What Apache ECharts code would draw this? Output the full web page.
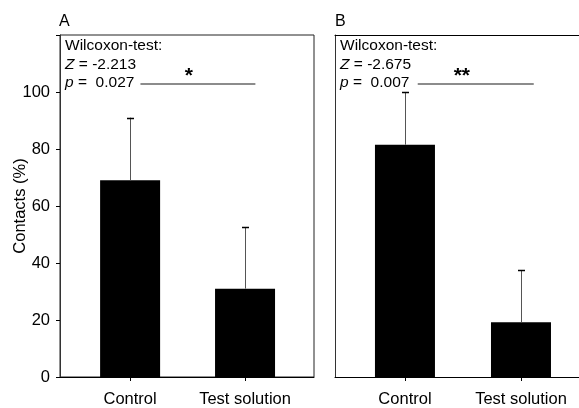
<!DOCTYPE html>
<html>
<head>
<meta charset="utf-8">
<script src="https://cdn.jsdelivr.net/npm/echarts@6/dist/echarts.min.js"></script>
<style>html,body{margin:0;padding:0;background:#fff}#c{width:579px;height:408px}</style>
</head>
<body>
<div id="c"></div>
<script>
var categories = ['Control', 'Test solution'];
var meansA = [69, 31];
var errA = [22, 21.5];
var meansB = [81.5, 19.2];
var errB = [18.5, 18.3];
var yTicks = [0, 20, 40, 60, 80, 100];
var statsA = ['Wilcoxon-test:', '{i|Z} = -2.213', '{i|p} =  0.027'];
var statsB = ['Wilcoxon-test:', '{i|Z} = -2.675', '{i|p} =  0.007'];
var sigA = {from: 0.09, to: 1.09, y: 103, starX: 0.51, starY: 105.6, label: '*'};
var sigB = {from: 0.11, to: 1.11, y: 103, starX: 0.49, starY: 105.6, label: '**'};

var FONT = 'Liberation Sans, Arial, sans-serif';
var chart = echarts.init(document.getElementById('c'), null, {renderer: 'canvas'});

function xAxis(gi, min, max) {
  return {
    type: 'value', gridIndex: gi, min: min, max: max,
    splitLine: {show: false},
    axisLine: {show: true, onZero: false, lineStyle: {color: '#000', width: 1}},
    axisTick: {show: true, customValues: [0, 1], length: 4, lineStyle: {color: '#000'}},
    axisLabel: {show: true, customValues: [0, 1], margin: 14, color: '#000', fontSize: 16.5, fontFamily: FONT,
      formatter: function (v) { return categories[Math.round(v)]; }}
  };
}
function topAxis(gi, min, max) {
  return {
    type: 'value', gridIndex: gi, min: min, max: max, position: 'top',
    splitLine: {show: false},
    axisLine: {show: true, onZero: false, lineStyle: {color: '#000', width: 1}},
    axisTick: {show: false}, axisLabel: {show: false}
  };
}
function yAxis(gi, labels) {
  return {
    type: 'value', gridIndex: gi, min: 0, max: 120, interval: 20,
    splitLine: {show: false},
    name: labels ? 'Contacts (%)' : '', nameLocation: 'middle', nameGap: 31, nameMoveOverlap: false,
    nameTextStyle: {color: '#000', fontSize: 16.5, fontFamily: FONT},
    axisLine: {show: true, onZero: false, lineStyle: {color: '#333', width: 1}},
    axisTick: {show: labels, length: 4, lineStyle: {color: '#000'}},
    axisLabel: {show: labels, margin: 10, color: '#000', fontSize: 16.5, fontFamily: FONT,
      formatter: function (v) { return yTicks.indexOf(v) >= 0 ? String(v) : ''; }}
  };
}
function errSeries(gi, means, errs) {
  return {
    type: 'custom', xAxisIndex: gi, yAxisIndex: gi, z: 5,
    data: means.map(function (m, i) { return [i, m, m + errs[i]]; }),
    renderItem: function (params, api) {
      var p0 = api.coord([api.value(0), api.value(1)]);
      var p1 = api.coord([api.value(0), api.value(2)]);
      var x = Math.round(p0[0]) + 0.5;
      return {type: 'group', children: [
        {type: 'line', shape: {x1: x, y1: p0[1], x2: x, y2: p1[1]}, style: {stroke: '#555', lineWidth: 1}},
        {type: 'line', shape: {x1: x - 3.5, y1: Math.round(p1[1]) + 0.5, x2: x + 3.5, y2: Math.round(p1[1]) + 0.5}, style: {stroke: '#000', lineWidth: 1.5}}
      ]};
    }
  };
}
function barSeries(gi, means, sig) {
  return {
    type: 'bar', xAxisIndex: gi, yAxisIndex: gi, barWidth: 60, z: 3,
    itemStyle: {color: '#000'},
    data: means.map(function (m, i) { return [i, m]; }),
    markLine: {
      silent: true, symbol: 'none', animation: false,
      lineStyle: {color: '#666', width: 1.5, type: 'solid'},
      label: {show: false},
      data: [[{coord: [sig.from, sig.y]}, {coord: [sig.to, sig.y]}]]
    },
    markPoint: {
      silent: true, animation: false, symbol: 'circle', symbolSize: 0,
      label: {show: true, position: 'inside', formatter: sig.label, color: '#000', fontSize: 21, fontWeight: 'bold', fontFamily: FONT},
      data: [{coord: [sig.starX, sig.starY]}]
    }
  };
}
function statText(lines, left) {
  var tops = [38, 57, 74.5];
  return lines.map(function (t, i) {
    return {type: 'text', left: left, top: tops[i], style: {text: t, fill: '#000', font: '15.5px ' + FONT,
      rich: {i: {fontStyle: 'italic', fontSize: 15.5, fontFamily: FONT, fill: '#000'}}}};
  });
}

var minA = -0.61, maxA = 1.6, minB = -0.603, maxB = 1.5;
chart.setOption({
  animation: false,
  backgroundColor: '#fff',
  grid: [
    {left: 60, top: 35, width: 254, bottom: 27, show: true, borderColor: '#222', borderWidth: 1},
    {left: 335, top: 35, right: 0, bottom: 27, show: false}
  ],
  xAxis: [xAxis(0, minA, maxA), xAxis(1, minB, maxB), topAxis(1, minB, maxB)],
  yAxis: [yAxis(0, true), yAxis(1, false)],
  series: [barSeries(0, meansA, sigA), errSeries(0, meansA, errA), barSeries(1, meansB, sigB), errSeries(1, meansB, errB)],
  graphic: [
    {type: 'text', left: 59, top: 14, style: {text: 'A', fill: '#000', font: '16px ' + FONT}},
    {type: 'text', left: 335, top: 14, style: {text: 'B', fill: '#000', font: '16px ' + FONT}}
  ].concat(statText(statsA, 65), statText(statsB, 340))
});
</script>
</body>
</html>
